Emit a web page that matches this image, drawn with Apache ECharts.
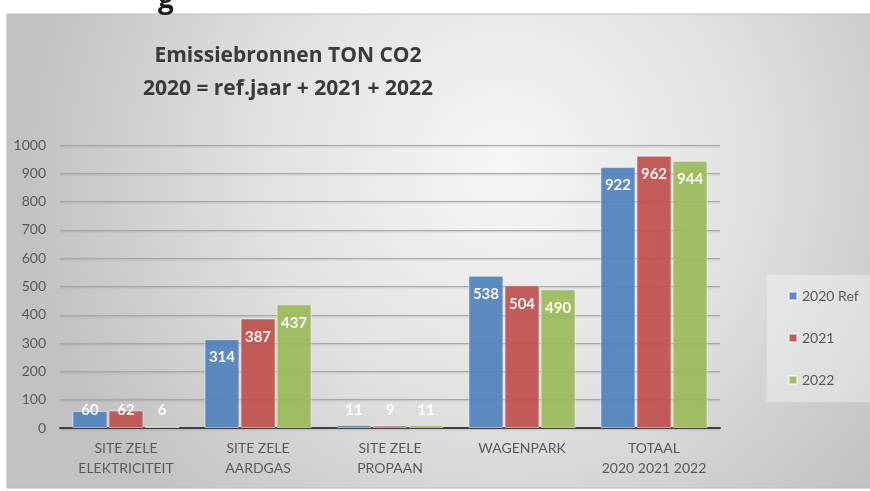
<!DOCTYPE html>
<html>
<head>
<meta charset="utf-8">
<script src="https://cdn.jsdelivr.net/npm/echarts@6/dist/echarts.min.js"></script>
<style>html,body{margin:0;padding:0;background:#fff;}#c{width:870px;height:491px;}</style>
</head>
<body>
<div id="c"></div>
<script>
const categories = ['SITE ZELE\nELEKTRICITEIT', 'SITE ZELE\nAARDGAS', 'SITE ZELE\nPROPAAN', 'WAGENPARK', 'TOTAAL\n2020 2021 2022'];
const seriesNames = ['2020 Ref', '2021', '2022'];
const values2020 = [60, 314, 11, 538, 922];
const values2021 = [62, 387, 9, 504, 962];
const values2022 = [6, 437, 11, 490, 944];
const yTicks = [0, 100, 200, 300, 400, 500, 600, 700, 800, 900, 1000];
const titleText = 'Emissiebronnen TON CO2\n2020 = ref.jaar + 2021 + 2022';

const colors = ['#4f81bd', '#c0504d', '#9bbb59'];
const FONT = 'Lato';

function makeData(arr) {
  return arr.map(v => v < 100
    ? { value: v, label: { position: 'insideBottom', distance: 10 } }
    : { value: v });
}

const allValues = [values2020, values2021, values2022];
const chart = echarts.init(document.getElementById('c'), null, { renderer: 'canvas' });
chart.setOption({
  animation: false,
  color: colors,
  graphic: [
    {
      type: 'rect', z: -10, silent: true,
      shape: { x: 7, y: 14, width: 870, height: 474 },
      style: {
        fill: { type: 'radial', x: 0.57, y: 0.32, r: 1.0,
          colorStops: [{ offset: 0, color: '#f6f6f6' }, { offset: 0.5, color: '#e2e2e2' }, { offset: 1, color: '#c2c2c2' }] },
        stroke: '#bcbcbc', lineWidth: 1
      }
    },
    {
      type: 'text', z: 10, silent: true,
      style: { text: 'g', x: 158, y: 14, verticalAlign: 'bottom', font: 'bold 28px "Open Sans"', fill: '#1a1a1a' }
    }
  ],
  title: {
    text: titleText,
    left: 288, top: 40, padding: 0, textAlign: 'center',
    textStyle: { fontFamily: 'Open Sans', fontWeight: 'bold', fontSize: 21, lineHeight: 33, color: '#3a3a3a' }
  },
  legend: {
    orient: 'vertical',
    left: 767, top: 275,
    padding: [14, 12, 15, 21],
    backgroundColor: 'rgba(255,255,255,0.35)',
    itemWidth: 8, itemHeight: 8, itemGap: 28,
    icon: 'rect',
    data: seriesNames,
    textStyle: { fontFamily: FONT, fontSize: 14, color: '#595959' }
  },
  grid: { left: 60, right: 150, top: 145, bottom: 63, containLabel: false },
  xAxis: {
    type: 'category',
    data: categories,
    axisTick: { show: false },
    axisLine: { lineStyle: { color: '#404040', width: 2 } },
    axisLabel: { fontFamily: FONT, fontSize: 14, lineHeight: 20, color: '#595959', margin: 10, interval: 0 }
  },
  yAxis: {
    type: 'value',
    min: yTicks[0], max: yTicks[yTicks.length - 1], interval: yTicks[1] - yTicks[0],
    axisLine: { show: false },
    axisTick: { show: false },
    axisLabel: { fontFamily: FONT, fontSize: 14, color: '#595959', margin: 14, formatter: v => String(v) },
    splitLine: { lineStyle: { color: '#a8a8a8', width: 1, shadowColor: 'rgba(0,0,0,0.2)', shadowBlur: 2, shadowOffsetY: 1 } }
  },
  series: seriesNames.map((name, i) => ({
    name: name,
    type: 'bar',
    barWidth: 35,
    barGap: '3%',
    data: makeData(allValues[i]),
    itemStyle: { borderColor: 'rgba(255,255,255,0.55)', borderWidth: 1, opacity: 0.92 },
    label: {
      show: true, position: 'insideTop', distance: 11,
      fontFamily: FONT, fontWeight: 'bold', fontSize: 15, color: '#ffffff'
    }
  }))
});
</script>
</body>
</html>
